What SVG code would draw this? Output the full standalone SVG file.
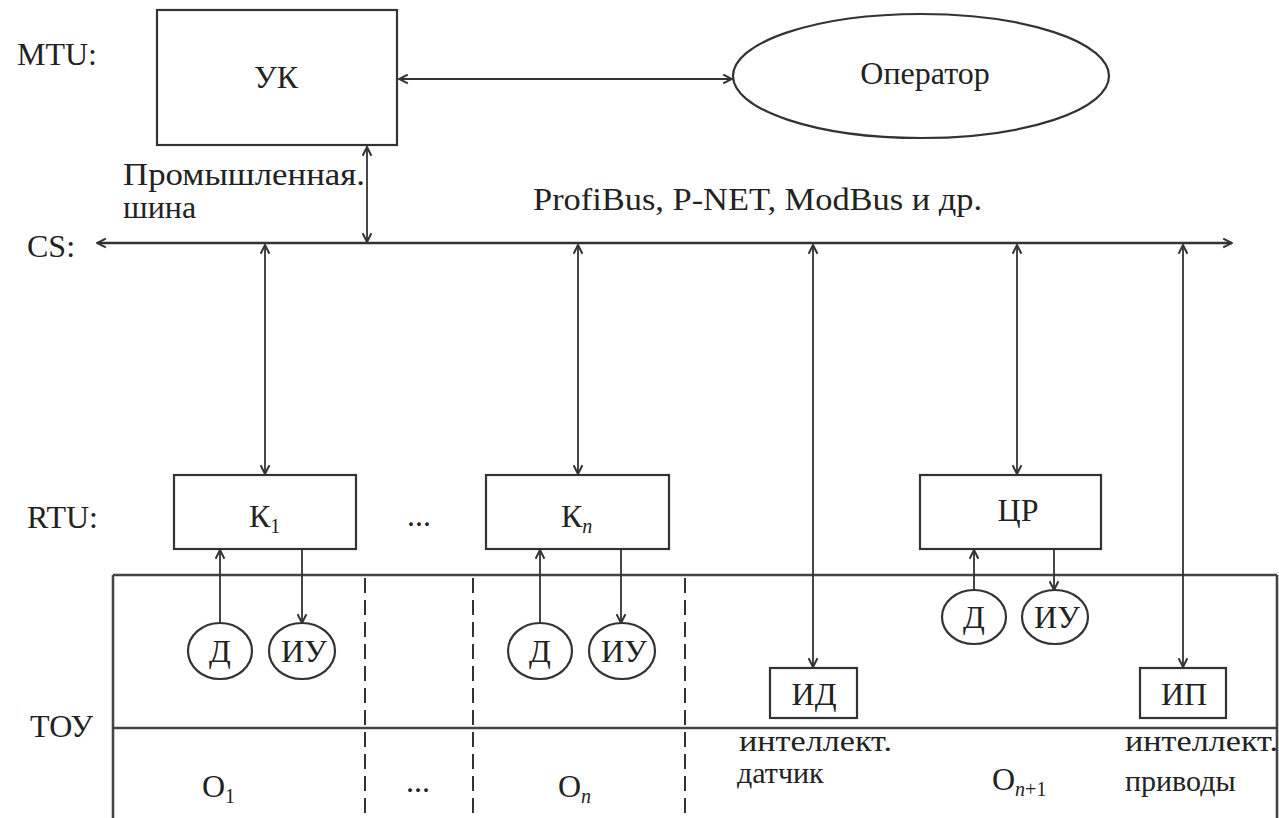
<svg xmlns="http://www.w3.org/2000/svg" width="1279" height="818" viewBox="0 0 1279 818">
<defs>
<marker id="ah" viewBox="0 0 10 10" refX="9.5" refY="5" markerWidth="11" markerHeight="11" markerUnits="userSpaceOnUse" orient="auto-start-reverse">
<path d="M1.5,1 L9.5,5 L1.5,9" fill="none" stroke="#333" stroke-width="1.8"/>
</marker>
<style>
.t{font-family:"Liberation Serif","Times New Roman",serif;fill:#222;font-size:32px}
.s{font-size:30px}
.m{text-anchor:middle}
.sub{font-size:20px}
.box{fill:#fff;stroke:#333;stroke-width:2.2}
.arr{stroke:#333;stroke-width:1.8;fill:none;marker-end:url(#ah)}
.arr2{stroke:#333;stroke-width:1.8;fill:none;marker-start:url(#ah);marker-end:url(#ah)}
.frame{stroke:#444;stroke-width:2.6;fill:none}
.dash{stroke:#333;stroke-width:2;stroke-dasharray:15 7;fill:none}
</style>
</defs>
<rect width="1279" height="818" fill="#fff"/>

<g id="labels">
<text class="t" x="17" y="65">MTU:</text>
<text class="t" x="27" y="257">CS:</text>
<text class="t" x="27" y="528">RTU:</text>
<text class="t" x="30" y="737">ТОУ</text>
<text class="t" x="123" y="185" textLength="242" lengthAdjust="spacingAndGlyphs">Промышленная.</text>
<text class="t" x="123" y="218">шина</text>
<text class="t" x="533" y="210" textLength="449" lengthAdjust="spacingAndGlyphs">ProfiBus, P-NET, ModBus и др.</text>
<text class="t m" x="419" y="526">...</text>
</g>

<g id="table">
<line class="frame" x1="113" y1="575" x2="1277" y2="575"/>
<line class="frame" x1="113" y1="728" x2="1277" y2="728"/>
<line class="frame" x1="113" y1="575" x2="113" y2="818"/>
<line class="frame" x1="1277" y1="575" x2="1277" y2="818"/>
<line class="dash" x1="365" y1="578" x2="365" y2="818"/>
<line class="dash" x1="473" y1="578" x2="473" y2="818"/>
<line class="dash" x1="685" y1="578" x2="685" y2="818"/>
<text class="t" x="202" y="797">O<tspan class="sub" dy="6">1</tspan></text>
<text class="t m" x="418" y="792">...</text>
<text class="t" x="558" y="797">O<tspan class="sub" dy="6" font-style="italic">n</tspan></text>
<text class="t" x="992" y="790">O<tspan class="sub" dy="6"><tspan font-style="italic">n</tspan>+1</tspan></text>
<text class="t s" x="739" y="751" textLength="153" lengthAdjust="spacingAndGlyphs">интеллект.</text>
<text class="t s" x="737" y="783">датчик</text>
<text class="t s" x="1125" y="751" textLength="153" lengthAdjust="spacingAndGlyphs">интеллект.</text>
<text class="t s" x="1125" y="791">приводы</text>
</g>

<g id="connectors">
<line class="arr2" x1="399" y1="79" x2="732" y2="79"/>
<line class="arr2" x1="367" y1="147" x2="367" y2="242"/>
<line class="arr2" x1="97" y1="243" x2="1232" y2="243" style="stroke-width:2.4"/>
<line class="arr2" x1="265" y1="245" x2="265" y2="474"/>
<line class="arr2" x1="578" y1="245" x2="578" y2="474"/>
<line class="arr2" x1="813" y1="245" x2="813" y2="667"/>
<line class="arr2" x1="1017" y1="245" x2="1017" y2="474"/>
<line class="arr2" x1="1183" y1="245" x2="1183" y2="667"/>
<line class="arr" x1="220" y1="623" x2="220" y2="550"/>
<line class="arr" x1="302" y1="550" x2="302" y2="623"/>
<line class="arr" x1="540" y1="623" x2="540" y2="550"/>
<line class="arr" x1="621" y1="550" x2="621" y2="623"/>
<line class="arr" x1="974" y1="590" x2="974" y2="550"/>
<line class="arr" x1="1054" y1="550" x2="1054" y2="590"/>
</g>

<g id="uk">
<rect class="box" x="157" y="10" width="240" height="135"/>
<text class="t m" x="276" y="88">УК</text>
</g>
<g id="operator">
<ellipse class="box" cx="921" cy="76" rx="188" ry="62"/>
<text class="t m" x="925" y="84">Оператор</text>
</g>
<g id="k1">
<rect class="box" x="174" y="475" width="182" height="74"/>
<text class="t" x="249" y="527">К<tspan class="sub" dy="6">1</tspan></text>
</g>
<g id="kn">
<rect class="box" x="486" y="475" width="183" height="74"/>
<text class="t" x="561" y="527">К<tspan class="sub" dy="6" font-style="italic">n</tspan></text>
</g>
<g id="cr">
<rect class="box" x="920" y="475" width="181" height="74"/>
<text class="t m" x="1018" y="521">ЦР</text>
</g>
<g id="d1">
<ellipse class="box" cx="220" cy="651" rx="32" ry="28"/>
<text class="t m" x="220" y="662">Д</text>
</g>
<g id="iu1">
<ellipse class="box" cx="302" cy="651" rx="33" ry="28"/>
<text class="t m" x="304" y="662">ИУ</text>
</g>
<g id="dn">
<ellipse class="box" cx="540" cy="651" rx="32" ry="28"/>
<text class="t m" x="540" y="662">Д</text>
</g>
<g id="iun">
<ellipse class="box" cx="622" cy="651" rx="33" ry="28"/>
<text class="t m" x="624" y="662">ИУ</text>
</g>
<g id="d3">
<ellipse class="box" cx="974" cy="617" rx="32" ry="27"/>
<text class="t m" x="974" y="628">Д</text>
</g>
<g id="iu3">
<ellipse class="box" cx="1055" cy="617" rx="33" ry="27"/>
<text class="t m" x="1057" y="628">ИУ</text>
</g>
<g id="id">
<rect class="box" x="770" y="668" width="87" height="50"/>
<text class="t m" x="814" y="705">ИД</text>
</g>
<g id="ip">
<rect class="box" x="1140" y="668" width="86" height="50"/>
<text class="t m" x="1184" y="705">ИП</text>
</g>
</svg>
